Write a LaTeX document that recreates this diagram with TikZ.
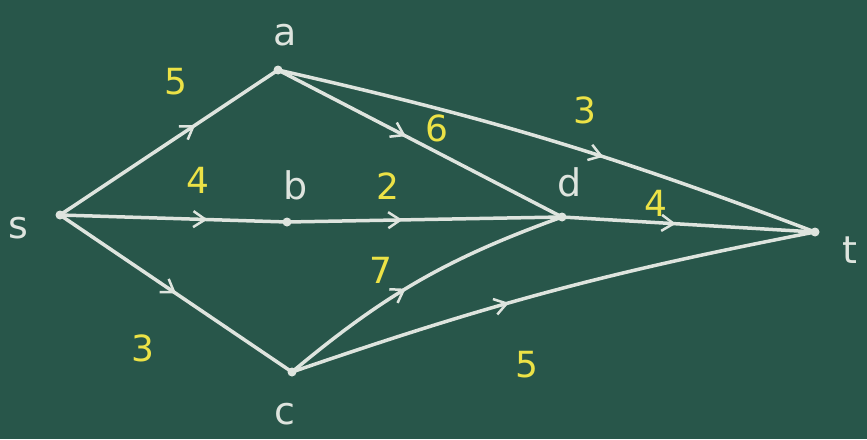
\documentclass[tikz,border=0pt]{standalone}
\usepackage{fontspec}
\setmainfont{DejaVu Sans}
\usetikzlibrary{arrows.meta,decorations.markings}
\definecolor{board}{RGB}{40,86,74}
\definecolor{chalk}{RGB}{222,228,222}
\definecolor{ychalk}{RGB}{236,226,70}
\tikzset{
  chalkline/.style={draw=chalk, line width=3.5pt, line cap=round},
  midarrow/.style={postaction={decorate, decoration={markings,
     mark=at position #1 with {\arrow[chalk,line width=2.5pt]{Straight Barb[length=12pt,width=16pt]}}}}},
  vlabel/.style={text=chalk, font=\fontsize{38}{44}\selectfont},
  wlabel/.style={text=ychalk, font=\fontsize{36}{42}\selectfont},
  vdot/.style={circle, fill=chalk, inner sep=0pt, minimum size=9pt}
}
\begin{document}
\begin{tikzpicture}[x=1pt,y=-1pt]
\fill[board] (0,0) rectangle (867,439);
\useasboundingbox (0,0) rectangle (867,439);
% vertices
\node[vdot] (s) at (60,215) {};
\node[vdot] (a) at (278,70) {};
\node[vdot] (b) at (287,222) {};
\node[vdot] (c) at (292,372) {};
\node[vdot] (d) at (562,217) {};
\node[vdot] (t) at (815,232) {};
% vertex labels
\node[vlabel] (ls) at (18,228) {s};
\node[vlabel] (la) at (285,35) {a};
\node[vlabel] (lb) at (296,185) {b};
\node[vlabel] (lc) at (285,414) {c};
\node[vlabel] (ld) at (570,182) {d};
\node[vlabel] (lt) at (850,250) {t};
% edges
\draw[chalkline, midarrow=0.62] (s.center) -- (a.center);
\draw[chalkline, midarrow=0.65] (s.center) -- (b.center);
\draw[chalkline, midarrow=0.5] (s.center) -- (c.center);
\draw[chalkline, midarrow=0.45] (a.center) -- (d.center);
\draw[chalkline, midarrow=0.6] (a.center) to[bend left=4] (t.center);
\draw[chalkline, midarrow=0.42] (b.center) -- (d.center);
\draw[chalkline, midarrow=0.45] (c.center) to[bend left=10] (d.center);
\draw[chalkline, midarrow=0.45] (d.center) -- (t.center);
\draw[chalkline, midarrow=0.42] (c.center) to[bend left=4] (t.center);
% capacities
\node[wlabel] (w1) at (176,82) {5};
\node[wlabel] (w2) at (198,180) {4};
\node[wlabel] (w3) at (143,348) {3};
\node[wlabel] (w4) at (437,128) {6};
\node[wlabel] (w5) at (585,110) {3};
\node[wlabel] (w6) at (388,186) {2};
\node[wlabel] (w7) at (381,270) {7};
\node[wlabel] (w8) at (656,203) {4};
\node[wlabel] (w9) at (527,365) {5};
\end{tikzpicture}
\end{document}
